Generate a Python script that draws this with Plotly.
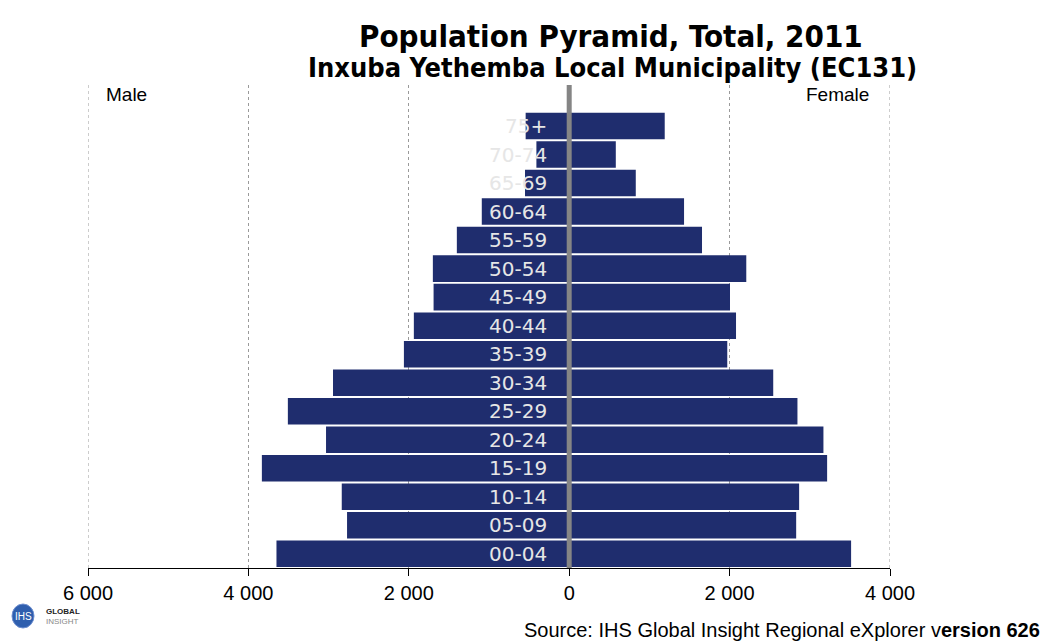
import plotly.graph_objects as go

age_groups = ["00-04", "05-09", "10-14", "15-19", "20-24", "25-29", "30-34", "35-39",
              "40-44", "45-49", "50-54", "55-59", "60-64", "65-69", "70-74", "75+"]
male = [3650, 2770, 2836, 3832, 3032, 3508, 2945, 2061,
        1937, 1691, 1700, 1401, 1090, 551, 409, 543]
female = [3515, 2830, 2867, 3216, 3170, 2846, 2544, 1971,
          2080, 2005, 2208, 1656, 1432, 830, 581, 1191]
tick_vals = [-6000, -4000, -2000, 0, 2000, 4000]
tick_text = ["6 000", "4 000", "2 000", "0", "2 000", "4 000"]

bar_color = "#1f2d6e"
W, H = 1048, 642
ML, MR, MT, MB = 88, 158, 85, 74
PW, PH = W - ML - MR, H - MT - MB

fig = go.Figure()
fig.add_trace(go.Bar(y=age_groups, x=[-v for v in male], orientation="h",
                     marker=dict(color=bar_color, line=dict(width=0)), name="Male"))
fig.add_trace(go.Bar(y=age_groups, x=female, orientation="h",
                     marker=dict(color=bar_color, line=dict(width=0)), name="Female"))

for ag in age_groups:
    fig.add_annotation(x=-256, y=ag, xref="x", yref="y", text=ag, showarrow=False, xanchor="right",
                       font=dict(family="DejaVu Sans", size=20, color="#e6e6e6"))

# edge gridlines (plotly hides gridlines at the range ends)
for xv in (tick_vals[0], tick_vals[-1]):
    fig.add_shape(type="line", x0=xv, x1=xv, y0=0, y1=1, xref="x", yref="paper",
                  line=dict(color="#9a9a9a", width=1, dash="dot"), layer="below")

fig.add_shape(type="line", x0=0, x1=0, y0=0, y1=1, xref="x", yref="paper",
              line=dict(color="#858585", width=5), layer="above")

fig.update_layout(
    width=W, height=H,
    margin=dict(l=ML, r=MR, t=MT, b=MB),
    paper_bgcolor="white", plot_bgcolor="white",
    barmode="overlay", bargap=0.07, showlegend=False,
    font=dict(family="Liberation Sans, Arial", color="black"),
    xaxis=dict(range=[-6000, 4000], tickvals=tick_vals, ticktext=tick_text,
               showgrid=True, gridcolor="#9a9a9a", griddash="dot", gridwidth=1,
               zeroline=False, showline=True, linecolor="black", linewidth=1,
               ticks="outside", ticklen=7, tickcolor="black",
               tickfont=dict(size=20, family="Liberation Sans, Arial")),
    yaxis=dict(type="category", categoryorder="array", categoryarray=age_groups,
               range=[-0.5, 16.44], showticklabels=False, showgrid=False,
               zeroline=False, showline=False),
)


def paper_xy(px, py):
    return (px - ML) / PW, (H - MB - py) / PH


def add_text(px, py, text, size, family="Liberation Sans, Arial", color="black", xanchor="center"):
    x, y = paper_xy(px, py)
    fig.add_annotation(x=x, y=y, xref="paper", yref="paper", text=text, showarrow=False,
                       xanchor=xanchor, yanchor="middle",
                       font=dict(family=family, size=size, color=color))


add_text(611, 36, "<b>Population Pyramid, Total, 2011</b>", 31, family="DejaVu Sans Condensed")
add_text(612, 68, "<b>Inxuba Yethemba Local Municipality (EC131)</b>", 27, family="DejaVu Sans Condensed")
add_text(104, 94, "Male", 19, xanchor="left")
add_text(871, 94, "Female", 19, xanchor="right")
add_text(1042, 630, "Source: IHS Global Insight Regional eXplorer v<b>ersion 626</b>", 20, xanchor="right")

# logo
cx, cy = paper_xy(23, 616)
rx = 11 / PW
ry = 12 / PH
fig.add_shape(type="circle", xref="paper", yref="paper", x0=cx - rx, x1=cx + rx, y0=cy - ry, y1=cy + ry,
              fillcolor="#2f5fae", line=dict(color="#6f8fd0", width=1))
add_text(23, 616, "IHS", 10, color="white")
add_text(44, 611, "<b>GLOBAL</b>", 8, xanchor="left", color="#222222")
add_text(44, 621, "INSIGHT", 8, xanchor="left", color="#888888")

fig.write_html("out.html")
